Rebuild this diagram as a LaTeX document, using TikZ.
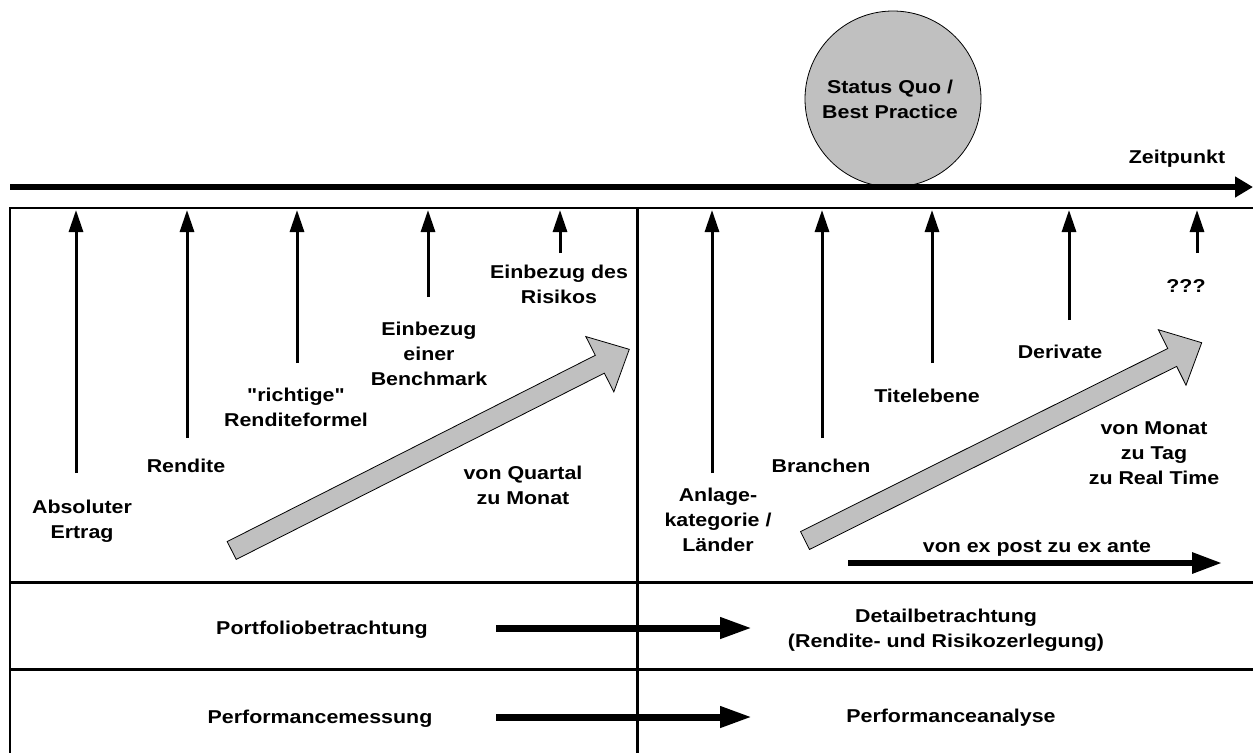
\documentclass[tikz,border=0pt]{standalone}
\usepackage{fontspec}
\setmainfont{Liberation Sans}[FakeStretch=1.15, Ligatures=TeXOff]
\usetikzlibrary{arrows.meta}
\definecolor{silver}{HTML}{C0C0C0}
\begin{document}
\begin{tikzpicture}[x=1pt,y=-1pt,
  lbl/.style={font=\bfseries\fontsize{18.6}{25}\selectfont, align=center, inner sep=0pt, anchor=base},
  vup/.style={line width=3pt, -{Triangle[length=22pt,width=14pt]}},
  timeline/.style={line width=6.5pt, -{Triangle[length=18pt,width=20pt]}},
  flowarrow/.style={line width=7pt, -{Triangle[length=32pt,width=20pt]}},
  exarrow/.style={line width=6pt, -{Triangle[length=30pt,width=20pt]}},
  frame/.style={line width=1.6pt},
  sep/.style={line width=3pt},
  blockarrow/.style={draw=black, line width=0.8pt, fill=silver, line join=miter},
  sqcircle/.style={circle, draw=black, line width=0.8pt, fill=silver, minimum size=176pt, inner sep=0pt}]
\useasboundingbox (0,0) rectangle (1253,753);

% status quo circle
\node[sqcircle] (sq) at (893,99) {};
\node[lbl] (sqtext) at (890,118) {Status Quo /\\Best Practice};

% timeline
\coordinate (t0) at (10,187);
\coordinate (t1) at (1253,187);
\draw[timeline] (t0) -- (t1);
\node[lbl] (zeit) at (1177,163) {Zeitpunkt};

% frame
\draw[frame] (10,208) -- (1253,208);
\draw[line width=2pt] (10,207.2) -- (10,753);
\draw[sep] (637,207.2) -- (637,753);
\draw[sep] (10,582) -- (1253,582);
\draw[sep] (10,669) -- (1253,669);

% vertical arrows
\foreach \n/\x/\yb in {a1/76/473, a2/187/438, a3/297/363, a4/428/297, a5/560/253,
                        b1/712/473, b2/822/438, b3/932/363, b4/1069/320, b5/1197/253}{
  \coordinate (\n-bot) at (\x,\yb);
  \coordinate (\n-top) at (\x,210);
  \draw[vup] (\n-bot) -- (\n-top);
}

% labels left (anchor at baseline of last line)
\node[lbl] (l1) at (82,538) {Absoluter\\Ertrag};
\node[lbl] (l2) at (186,472) {Rendite};
\node[lbl] (l3) at (296,426) {"richtige"\\Renditeformel};
\node[lbl] (l4) at (429,385) {Einbezug\\einer\\Benchmark};
\node[lbl] (l5) at (559,303) {Einbezug des\\Risikos};
\node[lbl] (lq) at (523,504) {von Quartal\\zu Monat};

% labels right
\node[lbl] (r1) at (718,551) {Anlage-\\kategorie /\\Länder};
\node[lbl] (r2) at (821,472) {Branchen};
\node[lbl] (r3) at (927,402) {Titelebene};
\node[lbl] (r4) at (1060,358) {Derivate};
\node[lbl] (r5) at (1186,292) {???};
\node[lbl] (rm) at (1154,484) {von Monat\\zu Tag\\zu Real Time};
\node[lbl] (rx) at (1037,552) {von ex post zu ex ante};

% block arrows
\begin{scope}[shift={(231.7,550.5)}, rotate=26.84]
  \draw[blockarrow] (0,-10) -- (412.6,-10) -- (412.6,-31) -- (445.6,0)
    -- (412.6,31) -- (412.6,10) -- (0,10) -- cycle;
\end{scope}
\begin{scope}[shift={(805,540.5)}, rotate=26.5]
  \draw[blockarrow] (0,-10) -- (410.3,-10) -- (410.3,-31) -- (443.3,0)
    -- (410.3,31) -- (410.3,10) -- (0,10) -- cycle;
\end{scope}

% ex post -> ex ante arrow
\coordinate (ex0) at (848,563);
\coordinate (ex1) at (1222,563);
\draw[exarrow] (ex0) -- (ex1);

% lower rows
\node[lbl] (pb) at (322,634) {Portfoliobetrachtung};
\node[lbl] (db) at (946,647) {Detailbetrachtung\\(Rendite- und Risikozerlegung)};
\node[lbl] (pm) at (320,723) {Performancemessung};
\node[lbl] (pa) at (951,722) {Performanceanalyse};
\coordinate (f1a) at (496,628);
\coordinate (f1b) at (752,628);
\coordinate (f2a) at (496,717);
\coordinate (f2b) at (752,717);
\draw[flowarrow] (f1a) -- (f1b);
\draw[flowarrow] (f2a) -- (f2b);
\end{tikzpicture}
\end{document}
